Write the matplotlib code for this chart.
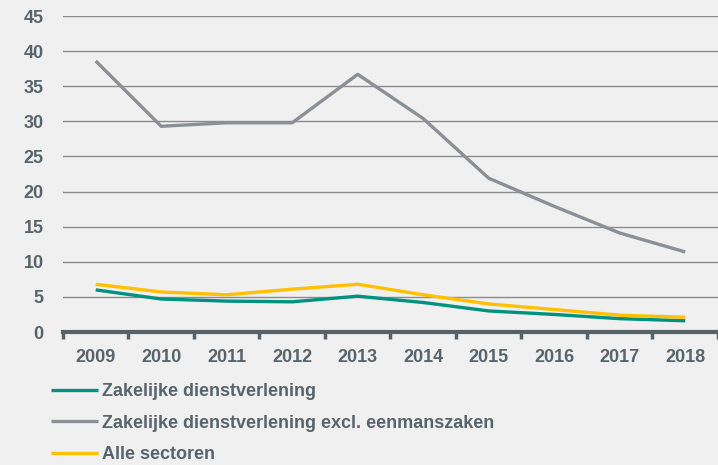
import numpy as np
import matplotlib
matplotlib.use('Agg')
import matplotlib.pyplot as plt

# data
years = ['2009', '2010', '2011', '2012', '2013', '2014', '2015', '2016', '2017', '2018']
zakelijk = [6.0, 4.7, 4.4, 4.3, 5.1, 4.2, 3.0, 2.5, 1.9, 1.6]
zakelijk_excl = [38.6, 29.3, 29.8, 29.8, 36.7, 30.4, 21.9, 17.9, 14.1, 11.4]
alle = [6.8, 5.7, 5.3, 6.1, 6.8, 5.3, 4.0, 3.2, 2.4, 2.1]
labels = ['Zakelijke dienstverlening',
          'Zakelijke dienstverlening excl. eenmanszaken',
          'Alle sectoren']

bg = '#f0f0f0'
txt = '#57646c'
plt.rcParams['font.family'] = ['Liberation Sans', 'DejaVu Sans']

fig = plt.figure(figsize=(7.18, 4.65), dpi=100, facecolor=bg)
ax = fig.add_axes([0.0877, 0.286, 0.9123, 0.6795], facecolor=bg)

x = np.arange(len(years))
l1, = ax.plot(x, zakelijk, color='#00927f', lw=2.4, solid_capstyle='butt')
l2, = ax.plot(x, zakelijk_excl, color='#8a9096', lw=2.4, solid_capstyle='butt')
l3, = ax.plot(x, alle, color='#ffc000', lw=2.4, solid_capstyle='butt')

ax.set_ylim(0, 45)
ax.set_xlim(-0.5, len(years) - 0.5)
ax.set_yticks(np.arange(0, 46, 5))
ax.yaxis.grid(True, color='#8c8c8c', lw=1.0)
ax.set_axisbelow(True)
ax.set_xticks(x)
ax.set_xticklabels(years)
ax.set_xticks(np.arange(-0.5, len(years), 1), minor=True)
ax.tick_params(axis='x', which='major', length=0, pad=12)
ax.tick_params(axis='x', which='minor', length=5, width=2.5, color='#55626a', direction='out')
ax.tick_params(axis='y', length=0, pad=14)
for lab in ax.get_xticklabels() + ax.get_yticklabels():
    lab.set_fontsize(13)
    lab.set_fontweight('bold')
    lab.set_color(txt)
for s in ['top', 'right', 'left']:
    ax.spines[s].set_visible(False)
ax.spines['bottom'].set_color('#55626a')
ax.spines['bottom'].set_linewidth(3)

leg = fig.legend([l1, l2, l3], labels, loc='upper left', bbox_to_anchor=(0.071, 0.176),
                 frameon=False, handlelength=2.6, handletextpad=0.22, labelspacing=0.8,
                 borderaxespad=0, borderpad=0, prop={'size': 13, 'weight': 'bold'})
for t in leg.get_texts():
    t.set_color(txt)

fig.savefig('out.png', dpi=100, facecolor=bg)
